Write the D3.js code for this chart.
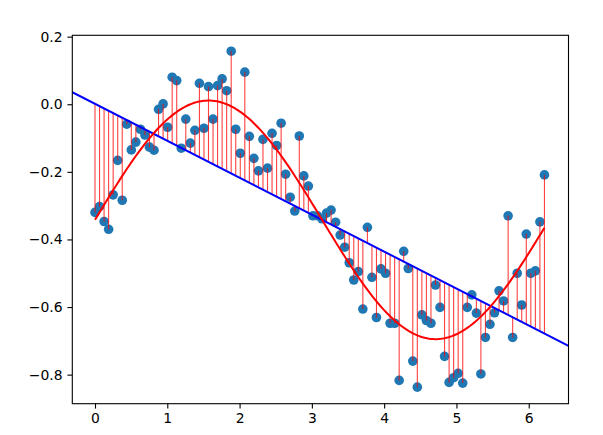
<!DOCTYPE html>
<html>
<head>
<meta charset="utf-8">
<script src="https://cdn.jsdelivr.net/npm/d3@7"></script>
<style>
  html, body { margin: 0; padding: 0; background: #fff; }
  svg { display: block; }
  text { font-family: "DejaVu Sans", sans-serif; }
</style>
</head>
<body>
<svg id="chart" width="603" height="435"></svg>
<script>
// ---- data ----
const nPoints = 100;
const xStep = 0.0628;   // x = i * step, i = 0..99
const yValues = [
  -0.320, -0.303, -0.347, -0.370, -0.268, -0.166, -0.284, -0.059, -0.135, -0.112,
  -0.074, -0.091, -0.127, -0.136, -0.015, 0.001, -0.068, 0.080, 0.070, -0.130,
  -0.044, -0.115, -0.077, 0.062, -0.071, 0.052, -0.044, 0.055, 0.075, 0.040,
  0.157, -0.074, -0.145, 0.095, -0.095, -0.160, -0.197, -0.104, -0.189, -0.086,
  -0.122, -0.056, -0.207, -0.275, -0.316, -0.094, -0.212, -0.242, -0.330, -0.330,
  -0.339, -0.322, -0.313, -0.349, -0.387, -0.423, -0.469, -0.520, -0.495, -0.606,
  -0.364, -0.512, -0.631, -0.487, -0.500, -0.648, -0.648, -0.817, -0.435, -0.486,
  -0.760, -0.837, -0.623, -0.640, -0.648, -0.535, -0.601, -0.746, -0.823, -0.809,
  -0.796, -0.825, -0.601, -0.564, -0.618, -0.798, -0.690, -0.651, -0.617, -0.552,
  -0.582, -0.330, -0.690, -0.500, -0.594, -0.384, -0.500, -0.493, -0.348, -0.209
];
const lineFit = [-0.1093, 0.0012];        // slope, intercept (blue line)
const sineFit = [0.353, 1.0, 0.0, -0.342]; // amplitude, frequency, phase, offset (red curve)
const xTicks = [0, 1, 2, 3, 4, 5, 6];
const yTicks = [-0.8, -0.6, -0.4, -0.2, 0.0, 0.2];
const xDomain = [-0.314, 6.55];
const yDomain = [-0.886, 0.204];

// ---- layout ----
const mLeft = 72.3, mRight = 568.5, mTop = 35.3, mBottom = 403.7;
const svg = d3.select("#chart");

const x = d3.scaleLinear().domain(xDomain).range([mLeft, mRight]);
const y = d3.scaleLinear().domain(yDomain).range([mBottom, mTop]);

const points = yValues.map((v, i) => ({ x: i * xStep, y: v }));
const lineVal = t => lineFit[0] * t + lineFit[1];
const sineVal = t => sineFit[0] * Math.sin(sineFit[1] * t + sineFit[2]) + sineFit[3];

svg.append("defs").append("clipPath").attr("id", "clip")
  .append("rect").attr("x", mLeft).attr("y", mTop)
  .attr("width", mRight - mLeft).attr("height", mBottom - mTop);

const plot = svg.append("g").attr("clip-path", "url(#clip)");

// dots
plot.append("g").selectAll("circle").data(points).join("circle")
  .attr("cx", d => x(d.x)).attr("cy", d => y(d.y)).attr("r", 4.8)
  .attr("fill", "#1f77b4");

// stems from the blue line to each point
plot.append("g").selectAll("line").data(points).join("line")
  .attr("x1", d => x(d.x)).attr("x2", d => x(d.x))
  .attr("y1", d => y(lineVal(d.x))).attr("y2", d => y(d.y))
  .attr("stroke", "#ff0000").attr("stroke-opacity", 0.75).attr("stroke-width", 1.1);

// blue regression line across the axes
plot.append("line")
  .attr("x1", x(xDomain[0])).attr("y1", y(lineVal(xDomain[0])))
  .attr("x2", x(xDomain[1])).attr("y2", y(lineVal(xDomain[1])))
  .attr("stroke", "#0000ff").attr("stroke-width", 2);

// red sine fit
const curveX = d3.range(0, 200).map(k => k * (points[nPoints - 1].x) / 199);
plot.append("path")
  .datum(curveX)
  .attr("d", d3.line().x(t => x(t)).y(t => y(sineVal(t))))
  .attr("fill", "none").attr("stroke", "#ff0000").attr("stroke-width", 2);

// axes
const xAxis = d3.axisBottom(x).tickValues(xTicks).tickFormat(d3.format("d"))
  .tickSize(4.9).tickPadding(4.9);
const yAxis = d3.axisLeft(y).tickValues(yTicks).tickFormat(d3.format(".1f"))
  .tickSize(4.9).tickPadding(4.9);

const gx = svg.append("g").attr("transform", `translate(0,${mBottom})`).call(xAxis);
const gy = svg.append("g").attr("transform", `translate(${mLeft},0)`).call(yAxis);
[gx, gy].forEach(g => {
  g.select(".domain").remove();
  g.selectAll(".tick line").attr("stroke", "#000").attr("stroke-width", 1.1);
  g.selectAll(".tick text").attr("font-size", "13.9px").attr("fill", "#000")
    .attr("font-family", "DejaVu Sans, sans-serif");
});

// frame
svg.append("rect").attr("x", mLeft).attr("y", mTop)
  .attr("width", mRight - mLeft).attr("height", mBottom - mTop)
  .attr("fill", "none").attr("stroke", "#000").attr("stroke-width", 1.1);
</script>
</body>
</html>
